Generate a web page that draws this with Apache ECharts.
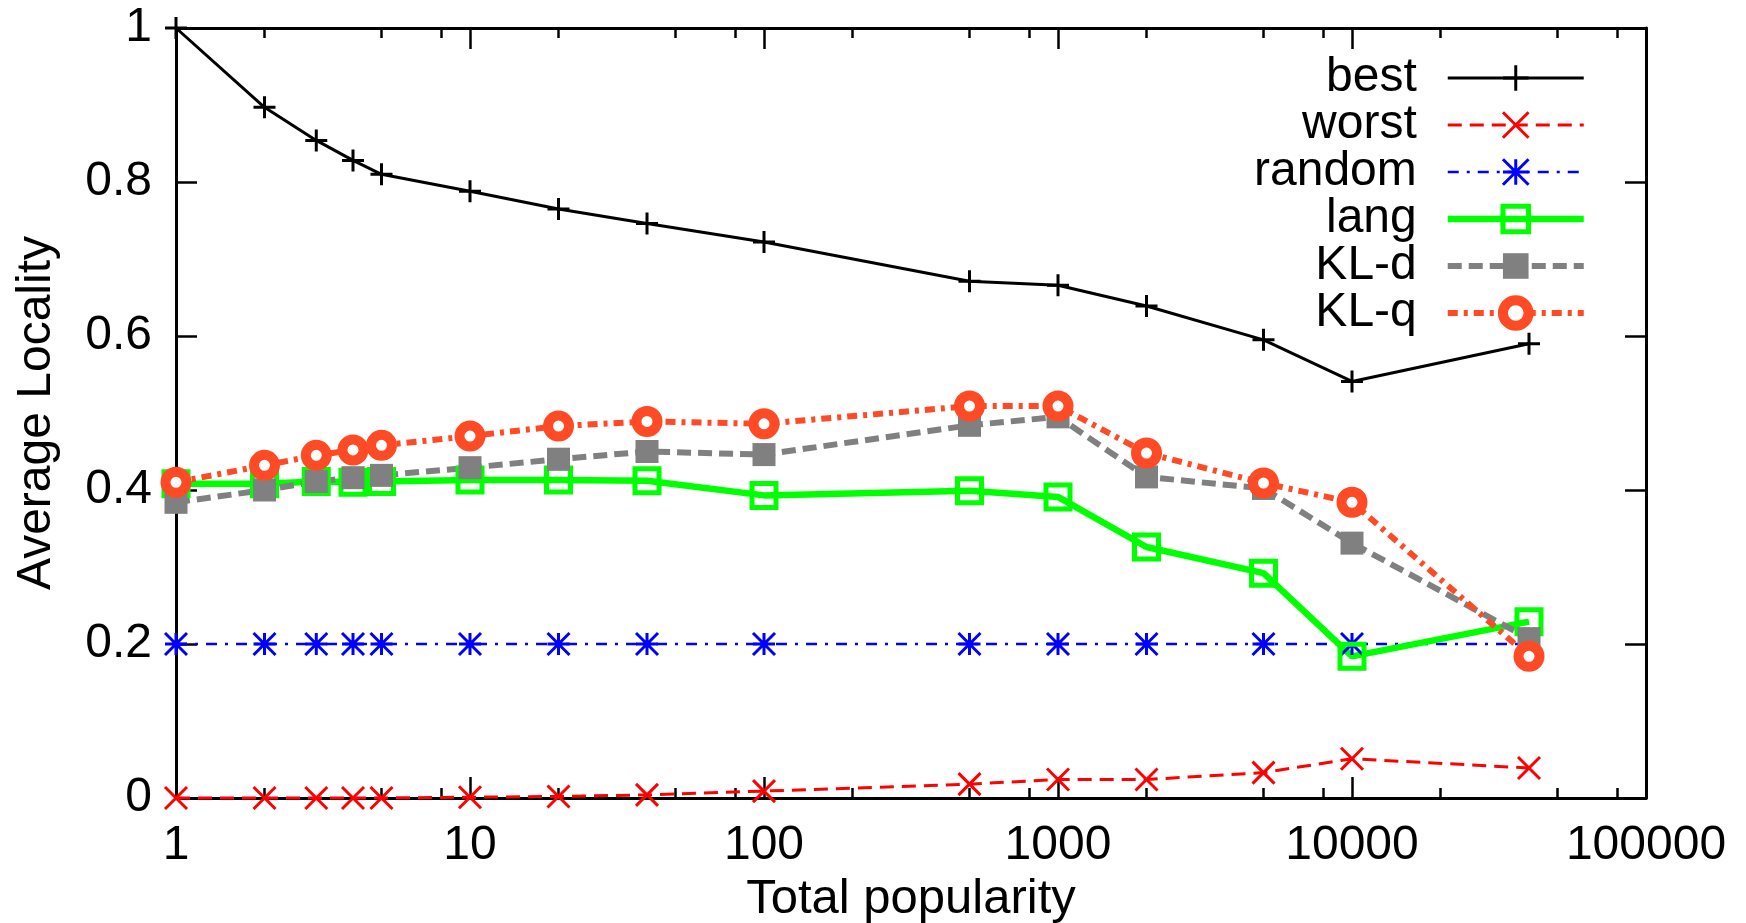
<!DOCTYPE html>
<html><head><meta charset="utf-8">
<script src="https://cdn.jsdelivr.net/npm/echarts@6/dist/echarts.min.js"></script>
<style>html,body{margin:0;padding:0;background:#fff}#c{width:1746px;height:923px}</style>
</head><body><div id="c"></div><script>
// ---- data ----
const xValues = [1, 2, 3, 4, 5, 10, 20, 40, 100, 500, 1000, 2000, 5000, 10000, 40000];
const best   = [1.000, 0.897, 0.854, 0.828, 0.810, 0.788, 0.765, 0.746, 0.722, 0.671, 0.666, 0.639, 0.595, 0.541, 0.590];
const worst  = [0, 0, 0, 0, 0, 0.001, 0.002, 0.004, 0.009, 0.018, 0.024, 0.024, 0.033, 0.051, 0.039];
const random = [0.2, 0.2, 0.2, 0.2, 0.2, 0.2, 0.2, 0.2, 0.2, 0.2, 0.2, 0.2, 0.2, 0.2, 0.2];
const lang   = [0.408, 0.408, 0.411, 0.410, 0.411, 0.413, 0.413, 0.412, 0.393, 0.399, 0.391, 0.326, 0.292, 0.184, 0.229];
const klD    = [0.384, 0.400, 0.411, 0.416, 0.419, 0.429, 0.440, 0.450, 0.446, 0.484, 0.495, 0.417, 0.402, 0.331, 0.207];
const klQ    = [0.410, 0.432, 0.445, 0.452, 0.458, 0.470, 0.483, 0.489, 0.486, 0.509, 0.509, 0.448, 0.409, 0.384, 0.184];
const xMajorTicks = [1, 10, 100, 1000, 10000, 100000];
const xMinorTicks = [2, 5, 8, 20, 50, 80, 200, 500, 800, 2000, 5000, 8000, 20000, 50000, 80000];
const yTicks = [0, 0.2, 0.4, 0.6, 0.8, 1];
const xTitle = 'Total popularity';
const yTitle = 'Average Locality';

const FONT = '"Liberation Sans", Arial, Helvetica, sans-serif';
const PLUS  = 'path://M0,-10L0,10M-10,0L10,0';
const CROSS = 'path://M-10,-10L10,10M-10,10L10,-10';
const STAR  = 'path://M0,-10L0,10M-10,0L10,0M-10,-10L10,10M-10,10L10,-10';
const OSQ   = 'path://M-10,-10L10,-10L10,10L-10,10Z';

function pairs(arr) { return xValues.map((x, i) => [x, arr[i]]); }
function mk(name, arr, lineColor, width, type, symbol, size, itemStyle) {
  return {
    name, type: 'line', data: pairs(arr), xAxisIndex: 0, yAxisIndex: 0,
    symbol, symbolSize: size, showAllSymbol: true, clip: false,
    lineStyle: { color: lineColor, width, type },
    itemStyle, emphasis: { disabled: true }, animation: false
  };
}

const series = [
  mk('best',   best,   '#000000', 3.0, 'solid',        PLUS,  22, { color: '#000', borderColor: '#000', borderWidth: 3 }),
  mk('worst',  worst,  '#ff0000', 3.0, [14, 8],        CROSS, 22, { color: '#ff0000', borderColor: '#ff0000', borderWidth: 3 }),
  mk('random', random, '#0000ff', 2.6, [11, 8, 3, 8],  STAR,  22, { color: '#0000ff', borderColor: '#0000ff', borderWidth: 3 }),
  mk('lang',   lang,   '#00ff00', 6.5, 'solid',        OSQ,   24, { color: 'transparent', borderColor: '#00ff00', borderWidth: 5 }),
  mk('KL-d',   klD,    '#808080', 6, [14, 7],          'rect', 23, { color: '#808080', borderWidth: 0 }),
  mk('KL-q',   klQ,    '#ff4a26', 6, [10, 6, 4, 6],    'circle', 21, { color: '#ffffff', borderColor: '#ff4a26', borderWidth: 10 })
];

const tickStyle = { color: '#000', width: 2.5 };
const lineStyleAxis = { color: '#000', width: 3 };

const option = {
  backgroundColor: '#ffffff',
  animation: false,
  grid: { left: 176, right: 100, top: 28, bottom: 125, containLabel: false, outerBoundsMode: 'none' },
  legend: {
    orient: 'vertical', right: 159, top: 54, align: 'right', padding: 0,
    itemWidth: 136, itemHeight: 32, itemGap: -1,
    selectedMode: false,
    textStyle: { fontSize: 48, fontFamily: FONT, color: '#000', padding: [0, 26, 0, 0] },
    data: [
      { name: 'best',   lineStyle: { width: 3 },   itemStyle: { borderWidth: 3 } },
      { name: 'worst',  lineStyle: { width: 3 },   itemStyle: { borderWidth: 3 } },
      { name: 'random', lineStyle: { width: 2.6 }, itemStyle: { borderWidth: 3 } },
      { name: 'lang',   lineStyle: { width: 6.5 }, itemStyle: { borderWidth: 5 } },
      { name: 'KL-d',   lineStyle: { width: 6 },   itemStyle: { borderWidth: 0 } },
      { name: 'KL-q',   lineStyle: { width: 6 },   itemStyle: { borderWidth: 10 } }
    ]
  },
  xAxis: [
    { type: 'log', logBase: 10, min: 1, max: 100000, position: 'bottom',
      name: xTitle, nameLocation: 'middle', nameGap: 70,
      nameTextStyle: { fontSize: 49, fontFamily: FONT, color: '#000' },
      axisLine: { show: true, lineStyle: lineStyleAxis },
      axisTick: { show: true, inside: true, length: 21, lineStyle: tickStyle, customValues: xMajorTicks },
      axisLabel: { show: true, margin: 24, fontSize: 48, fontFamily: FONT, color: '#000',
                   customValues: xMajorTicks, formatter: v => String(Math.round(v)) },
      splitLine: { show: false }, minorTick: { show: false } },
    { type: 'log', logBase: 10, min: 1, max: 100000, position: 'bottom',
      axisLine: { show: false }, axisLabel: { show: false }, splitLine: { show: false },
      axisTick: { show: true, inside: true, length: 10, lineStyle: tickStyle, customValues: xMinorTicks } },
    { type: 'log', logBase: 10, min: 1, max: 100000, position: 'top',
      axisLine: { show: true, lineStyle: lineStyleAxis }, axisLabel: { show: false }, splitLine: { show: false },
      axisTick: { show: true, inside: true, length: 21, lineStyle: tickStyle, customValues: xMajorTicks } },
    { type: 'log', logBase: 10, min: 1, max: 100000, position: 'top',
      axisLine: { show: false }, axisLabel: { show: false }, splitLine: { show: false },
      axisTick: { show: true, inside: true, length: 10, lineStyle: tickStyle, customValues: xMinorTicks } }
  ],
  yAxis: [
    { type: 'value', min: 0, max: 1, interval: 0.2, position: 'left',
      name: yTitle, nameLocation: 'middle', nameGap: 115, nameRotate: 90,
      nameTextStyle: { fontSize: 48, fontFamily: FONT, color: '#000' },
      axisLine: { show: true, lineStyle: lineStyleAxis },
      axisTick: { show: true, inside: true, length: 21, lineStyle: tickStyle, customValues: yTicks },
      axisLabel: { show: true, margin: 24, fontSize: 48, fontFamily: FONT, color: '#000',
                   customValues: yTicks, formatter: v => String(Math.round(v * 10) / 10) },
      splitLine: { show: false } },
    { type: 'value', min: 0, max: 1, interval: 0.2, position: 'right',
      axisLine: { show: true, lineStyle: lineStyleAxis }, axisLabel: { show: false }, splitLine: { show: false },
      axisTick: { show: true, inside: true, length: 21, lineStyle: tickStyle, customValues: yTicks } }
  ],
  series
};

const chart = echarts.init(document.getElementById('c'), null, { renderer: 'canvas' });
chart.setOption(option);
</script></body></html>
